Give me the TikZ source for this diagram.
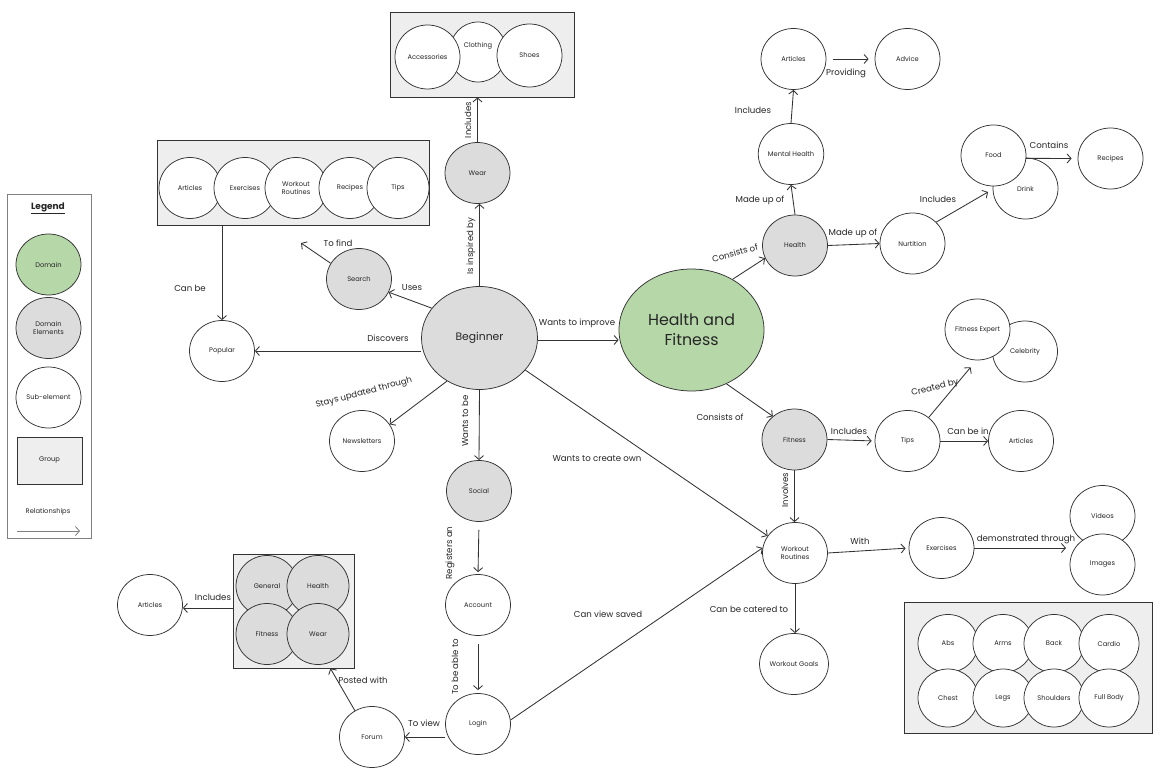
\documentclass[tikz,border=0pt]{standalone}
\usepackage{fontspec}
\setmainfont{Poppins}
\usetikzlibrary{shapes.geometric,arrows.meta}
\definecolor{domc}{HTML}{B6D7A8}
\definecolor{elmc}{HTML}{DCDCDC}
\definecolor{grpc}{HTML}{EEEEEE}
\definecolor{lnc}{HTML}{333333}
\definecolor{txc}{HTML}{262626}
\begin{document}
\begin{tikzpicture}[x=1pt,y=-1pt,
 sub/.style={ellipse,draw=lnc,line width=0.75pt,fill=white,minimum width=65pt,minimum height=61pt,inner sep=0pt,align=center,text=txc,font=\fontsize{6.7}{7.8}\selectfont},
 elm/.style={sub,fill=elmc},
 bsub/.style={sub,minimum width=60pt,minimum height=58pt},
 grpbox/.style={draw=lnc,line width=0.8pt,fill=grpc,inner sep=0pt},
 lab/.style={font=\fontsize{8.6}{10}\selectfont,text=txc,inner sep=1pt},
 arr/.style={draw=lnc,line width=0.85pt,-{Straight Barb[length=4pt,width=9pt]}},
]
\useasboundingbox (0,0) rectangle (1160,778);
\fill[white] (0,0) rectangle (1160,778);

% ---------- Legend ----------
\node[draw=gray,line width=0.6pt,fill=white,minimum width=84pt,minimum height=344pt,inner sep=0pt] (legend) at (49,366) {};
\node[lab,font=\fontsize{9}{10}\selectfont\bfseries] (legtitle) at (48,208) {\underline{Legend}};
\node[sub,fill=domc] (legdom) at (48.5,264.5) {Domain};
\node[elm] (legelm) at (48.5,328) {Domain\\Elements};
\node[sub] (legsub) at (48.5,397.5) {Sub-element};
\node[grpbox,minimum width=65pt,minimum height=47pt,font=\fontsize{6.7}{7.8}\selectfont,text=txc] (leggrp) at (49.5,460.5) {Group};
\node[lab,font=\fontsize{6.7}{7.8}\selectfont] (legrel) at (48,512) {Relationships};
\coordinate (lgA) at (17,531);
\coordinate (lgB) at (80,531);
\draw[arr,draw=gray] (lgA) -- (lgB);

% ---------- Groups ----------
\node[grpbox,minimum width=184pt,minimum height=85pt] (gwear) at (482,54.5) {};
\node[sub,minimum width=57pt,minimum height=60pt] (cloth) at (478,52) {Clothing\\[6pt]};
\node[sub,minimum width=65pt,minimum height=64pt] (acc) at (427.5,57) {Accessories};
\node[sub,minimum width=65pt,minimum height=63pt] (shoes) at (529.5,55.5) {Shoes};

\node[grpbox,minimum width=272pt,minimum height=85pt] (gtl) at (293,182.5) {};
\node[sub,minimum width=62pt] (tlart) at (190,188) {Articles};
\node[sub,minimum width=62pt] (tlex) at (245,188) {Exercises};
\node[sub,minimum width=62pt] (tlwr) at (296,188) {Workout\\Routines};
\node[sub,minimum width=62pt] (tlrec) at (350,188) {Recipes};
\node[sub,minimum width=62pt] (tltips) at (398,188) {Tips};

\node[grpbox,minimum width=121pt,minimum height=114pt] (gbl) at (293.5,611) {};
\node[elm,minimum width=62pt] (bgen) at (267,586) {General};
\node[elm,minimum width=62pt] (bhea) at (318,586) {Health};
\node[elm,minimum width=62pt] (bfit) at (267,634) {Fitness};
\node[elm,minimum width=62pt] (bwea) at (318,634) {Wear};

\node[grpbox,minimum width=248pt,minimum height=131pt] (gbody) at (1028,667.5) {};
\node[bsub] (abs) at (948,643.5) {Abs};
\node[bsub] (arms) at (1003,643.5) {Arms};
\node[bsub] (back) at (1054,643.5) {Back};
\node[bsub] (cardio) at (1109,643.5) {Cardio};
\node[bsub] (chest) at (948,698) {Chest};
\node[bsub] (legs) at (1003,698) {Legs};
\node[bsub] (should) at (1054,698) {Shoulders};
\node[bsub] (full) at (1109,698) {Full Body};

% ---------- Main nodes ----------
\node[elm,minimum width=116pt,minimum height=103pt,font=\fontsize{10.8}{12}\selectfont] (beg) at (479.5,338) {Beginner};
\node[sub,fill=domc,minimum width=145pt,minimum height=122pt,font=\fontsize{15.8}{20}\selectfont] (hf) at (691.5,330) {Health and\\Fitness};
\node[elm] (wear) at (477.5,173) {Wear};
\node[elm] (search) at (359,279) {Search};
\coordinate (tofind) at (301,243);
\node[sub] (popular) at (222,351) {Popular};
\node[sub] (news) at (362,441) {Newsletters};
\node[elm] (social) at (479,491) {Social};
\node[sub] (account) at (478,605) {Account};
\node[sub] (login) at (478,724) {Login};
\node[sub] (forum) at (372,737) {Forum};
\node[sub] (blart) at (150,605) {Articles};

\node[elm] (health) at (795,245.5) {Health};
\node[sub] (mental) at (791,154) {Mental Health};
\node[sub] (tart) at (793.5,59) {Articles};
\node[sub] (advice) at (907.5,59) {Advice};
\node[sub] (nurt) at (912.5,243.5) {Nurtition};
\node[sub] (drink) at (1025.5,188.5) {Drink};
\node[sub] (food) at (993.5,155.5) {Food};
\coordinate (fdjoin) at (988,192);
\node[sub] (recipes) at (1110.5,158.5) {Recipes};
\node[elm] (fitness) at (794.5,439.5) {Fitness};
\node[sub] (tips) at (907.5,441) {Tips};
\node[sub] (celeb) at (1025,351.5) {Celebrity};
\node[sub] (fexp) at (977.5,329.5) {Fitness Expert};
\node[sub] (rart) at (1021,441) {Articles};
\node[sub] (wr) at (795,553) {Workout\\Routines};
\node[sub] (exer) at (941.5,548) {Exercises};
\node[sub] (videos) at (1102.5,516) {Videos};
\node[sub] (images) at (1102.5,564.5) {Images};
\coordinate (vijoin) at (1066,548);
\node[sub] (wg) at (794,664) {Workout Goals};

% ---------- Connectors ----------
\draw[arr] (beg.north) -- (beg.north |- wear.south);
\draw[arr] (wear.north) -- (wear.north |- gwear.south);
\draw[arr] (beg.148) -- (search.-24);
\draw[arr] (search.151) -- (tofind);
\draw[arr] (beg.west |- popular.east) -- (popular.east);
\draw[arr] (popular.north |- gtl.south) -- (popular.north);
\draw[arr] (beg.233) -- (news.31);
\draw[arr] (beg.east |- 0,340) -- (hf.west |- 0,340);
\draw[arr] (beg.south) -- (social.north);
\draw[arr,shorten <=8pt,shorten >=2pt] (social.south) -- (account.north);
\draw[arr,shorten <=8pt,shorten >=3pt] (account.south) -- (login.north);
\draw[arr] (beg.-35) -- (wr.148);
\draw[arr] (login.7) -- (wr.171);
\draw[arr] (login.west |- forum.east) -- (forum.east);
\draw[arr] (forum.123) -- ([xshift=-24pt]gbl.south east);
\draw[arr] (gbl.west |- 0,608) -- (blart.east |- 0,608);

\draw[arr] (hf.51) -- (health.203);
\draw[arr] (health.north) -- (mental.south);
\draw[arr] (mental.north) -- (tart.south);
\draw[arr,shorten <=7pt,shorten >=6pt] (tart.east) -- (advice.west);
\draw[arr] (health.east) -- (nurt.west);
\draw[arr] (nurt.42) -- (fdjoin);
\draw[arr,shorten >=6pt] (food.-5) -- (recipes.west);
\draw[arr] (hf.-57) -- (fitness.133);
\draw[arr,shorten >=3pt] (fitness.east) -- (tips.west);
\draw[arr,shorten >=9pt] (tips.48) -- (fexp.-92);
\draw[arr] (tips.east) -- (rart.west);
\draw[arr] (fitness.south) -- (fitness.south |- wr.north);
\draw[arr,shorten >=3pt] (wr.east) -- (exer.west);
\draw[arr] (exer.east) -- (vijoin);
\draw[arr] (wr.south) -- (wr.south |- wg.north);

% ---------- Labels ----------
\node[lab,rotate=90] (l1) at (468,120) {Includes};
\node[lab,rotate=90] (l2) at (471,246) {Is inspired by};
\node[lab] (l3) at (338,243) {To find};
\node[lab] (l4) at (412,288) {Uses};
\node[lab] (l5) at (388,338) {Discovers};
\node[lab] (l6) at (190,288) {Can be};
\node[lab,rotate=15] (l7) at (364,393) {Stays updated through};
\node[lab,rotate=90] (l8) at (465,421) {Wants to be};
\node[lab] (l9) at (577,323) {Wants to improve};
\node[lab] (l10) at (597,459) {Wants to create own};
\node[lab,rotate=90] (l11) at (450,553) {Registers an};
\node[lab,rotate=90] (l12) at (455,667) {To be able to};
\node[lab] (l13) at (608,614) {Can view saved};
\node[lab] (l14) at (424,723) {To view};
\node[lab] (l15) at (363,680) {Posted with};
\node[lab] (l16) at (213,597) {Includes};
\node[lab,rotate=15] (l17) at (735,253) {Consists of};
\node[lab] (l18) at (760,200) {Made up of};
\node[lab] (l19) at (753,110) {Includes};
\node[lab] (l20) at (846,73) {Providing};
\node[lab] (l21) at (853,233) {Made up of};
\node[lab] (l22) at (938,199) {Includes};
\node[lab] (l23) at (1049,145) {Contains};
\node[lab] (l24) at (720,417) {Consists of};
\node[lab] (l25) at (849,431) {Includes};
\node[lab,rotate=14] (l26) at (935,388) {Created by};
\node[lab] (l27) at (968,431) {Can be in};
\node[lab,rotate=90] (l28) at (785,490) {Involves};
\node[lab] (l29) at (860,541) {With};
\node[lab] (l30) at (1026,539) {demonstrated through};
\node[lab] (l31) at (749,609) {Can be catered to};
\end{tikzpicture}
\end{document}
